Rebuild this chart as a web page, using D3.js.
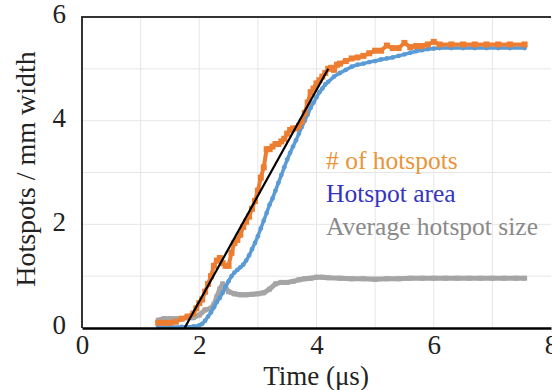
<!DOCTYPE html>
<html><head><meta charset="utf-8">
<script src="https://cdn.jsdelivr.net/npm/d3@7"></script>
<style>html,body{margin:0;padding:0;background:#fff;}svg{display:block;}</style>
</head><body>
<svg id="c" width="552" height="390"></svg>
<script>
// ---- data ----
const xTicks = [0, 2, 4, 6, 8];
const yTicks = [0, 2, 4, 6];
const seriesNames = ["# of hotspots", "Hotspot area", "Average hotspot size"];

const countT = [1.30,1.40,1.50,1.60,1.70,1.80,1.90,1.95,2.00,2.05,2.10,2.15,2.20,2.25,2.30,2.35,2.40,2.45,2.50,2.55,2.60,2.65,2.70,2.75,2.80,2.85,2.90,2.95,3.00,3.05,3.10,3.15,3.20,3.25,3.30,3.35,3.40,3.45,3.50,3.55,3.60,3.65,3.70,3.75,3.80,3.85,3.90,3.95,4.00,4.05,4.10,4.15,4.20,4.25,4.30,4.35,4.40,4.50,4.60,4.70,4.80,4.90,5.00,5.10,5.20,5.30,5.40,5.50,5.60,5.70,5.80,5.90,6.00,6.10,6.30,6.50,6.70,6.90,7.10,7.30,7.55];
const countV = [0.10,0.10,0.10,0.12,0.18,0.22,0.28,0.38,0.48,0.55,0.70,0.85,1.00,1.20,1.30,1.35,1.25,1.20,1.20,1.45,1.64,1.70,1.80,1.95,2.05,2.15,2.30,2.45,2.65,2.90,3.10,3.45,3.45,3.50,3.55,3.55,3.60,3.65,3.75,3.82,3.85,3.85,3.90,3.98,4.15,4.35,4.55,4.62,4.72,4.78,4.85,4.92,5.00,5.02,4.98,5.08,5.10,5.15,5.20,5.22,5.25,5.30,5.35,5.35,5.45,5.40,5.40,5.50,5.42,5.44,5.44,5.47,5.52,5.47,5.47,5.47,5.47,5.47,5.47,5.47,5.47];

const areaT = [1.30,1.50,1.70,1.90,2.00,2.05,2.10,2.15,2.20,2.25,2.30,2.35,2.40,2.45,2.50,2.55,2.60,2.65,2.70,2.75,2.80,2.85,2.90,2.95,3.00,3.05,3.10,3.15,3.20,3.25,3.30,3.35,3.40,3.45,3.50,3.55,3.60,3.65,3.70,3.75,3.80,3.85,3.90,3.95,4.00,4.05,4.10,4.15,4.20,4.30,4.40,4.50,4.60,4.70,4.80,4.90,5.00,5.10,5.20,5.30,5.40,5.50,5.60,5.70,5.80,5.90,6.00,6.10,6.30,6.50,6.70,6.90,7.10,7.30,7.55];
const areaV = [0.02,0.02,0.02,0.03,0.05,0.08,0.14,0.22,0.30,0.40,0.50,0.58,0.68,0.80,0.90,1.00,1.07,1.12,1.17,1.22,1.30,1.40,1.52,1.64,1.77,1.92,2.07,2.22,2.38,2.50,2.65,2.80,2.95,3.10,3.25,3.38,3.50,3.62,3.75,3.88,4.00,4.12,4.25,4.35,4.45,4.55,4.62,4.70,4.75,4.85,4.92,4.98,5.04,5.08,5.10,5.13,5.15,5.18,5.20,5.22,5.25,5.28,5.31,5.34,5.36,5.38,5.39,5.40,5.40,5.40,5.40,5.40,5.40,5.40,5.40];

const sizeT = [1.30,1.40,1.50,1.60,1.70,1.80,1.90,2.00,2.10,2.20,2.25,2.30,2.35,2.40,2.45,2.50,2.60,2.70,2.80,2.90,3.00,3.10,3.20,3.30,3.40,3.50,3.60,3.70,3.80,3.90,4.00,4.10,4.20,4.40,4.60,4.80,5.00,5.20,5.40,5.60,5.80,6.00,6.20,6.40,6.60,6.80,7.00,7.20,7.40,7.55];
const sizeV = [0.15,0.18,0.18,0.18,0.18,0.20,0.20,0.25,0.35,0.38,0.45,0.60,0.75,0.85,0.78,0.70,0.66,0.64,0.64,0.65,0.66,0.68,0.75,0.85,0.88,0.88,0.90,0.93,0.95,0.96,0.98,0.98,0.97,0.96,0.95,0.95,0.94,0.95,0.95,0.96,0.96,0.96,0.96,0.96,0.96,0.96,0.96,0.96,0.96,0.96];

const fitT = [1.75, 4.2];
const fitV = [0, 5.0];

// ---- drawing ----
const svg = d3.select("#c");
const x = d3.scaleLinear().domain([0, 8]).range([82, 551]);
const y = d3.scaleLinear().domain([0, 6]).range([328, 17]);
const font = "Liberation Serif, Times New Roman, serif";

// grid
svg.append("g").selectAll("line").data(d3.range(1, 8)).join("line")
  .attr("x1", d => x(d)).attr("x2", d => x(d)).attr("y1", y(0)).attr("y2", y(6))
  .attr("stroke", "#e6e6e6").attr("stroke-width", 1);
svg.append("g").selectAll("line").data(d3.range(1, 6)).join("line")
  .attr("x1", x(0)).attr("x2", x(8)).attr("y1", d => y(d)).attr("y2", d => y(d))
  .attr("stroke", "#e6e6e6").attr("stroke-width", 1);

function series(T, V, color, width, marker, msize) {
  const pts = T.map((t, i) => [t, V[i]]);
  svg.append("path").datum(pts)
    .attr("d", d3.line().x(d => x(d[0])).y(d => y(d[1])))
    .attr("fill", "none").attr("stroke", color).attr("stroke-width", width)
    .attr("stroke-linejoin", "round");
  const g = svg.append("g");
  if (marker === "sq") {
    g.selectAll("rect").data(pts).join("rect")
      .attr("x", d => x(d[0]) - msize / 2).attr("y", d => y(d[1]) - msize / 2)
      .attr("width", msize).attr("height", msize).attr("fill", color);
  } else {
    g.selectAll("circle").data(pts).join("circle")
      .attr("cx", d => x(d[0])).attr("cy", d => y(d[1])).attr("r", msize).attr("fill", color);
  }
}
series(sizeT, sizeV, "#a5a5a5", 5, "sq", 5);
series(areaT, areaV, "#5b9bd5", 3.5, "c", 2.4);
series(countT, countV, "#ed7d31", 4, "sq", 6);

// fit line
svg.append("line")
  .attr("x1", x(fitT[0])).attr("y1", y(fitV[0]))
  .attr("x2", x(fitT[1])).attr("y2", y(fitV[1]))
  .attr("stroke", "#000").attr("stroke-width", 2.2);

// frame
svg.append("line").attr("x1", x(0)).attr("x2", x(8)).attr("y1", y(6)).attr("y2", y(6))
  .attr("stroke", "#333").attr("stroke-width", 2);
svg.append("line").attr("x1", x(0)).attr("x2", x(0)).attr("y1", y(6) - 1).attr("y2", y(0))
  .attr("stroke", "#333").attr("stroke-width", 2);

// axes
const xa = svg.append("g").attr("transform", `translate(0,${y(0)})`)
  .call(d3.axisBottom(x).tickValues(xTicks).tickSize(0).tickPadding(7).tickFormat(d3.format("d")));
xa.attr("font-family", font);
xa.select(".domain").attr("stroke", "#000").attr("stroke-width", 2.5);
xa.selectAll("text").style("font-family", font).attr("font-size", 27).attr("fill", "#222");

const ya = svg.append("g").attr("transform", `translate(${x(0)},0)`)
  .call(d3.axisLeft(y).tickValues(yTicks).tickSize(0).tickPadding(16).tickFormat(d3.format("d")));
ya.attr("font-family", font);
ya.select(".domain").remove();
ya.selectAll("text").style("font-family", font).attr("font-size", 27).attr("fill", "#222").attr("dy", "0.22em");

// axis titles
svg.append("text").attr("x", 316).attr("y", 385).attr("text-anchor", "middle")
  .style("font-family", font).attr("font-size", 27).attr("fill", "#222").text("Time (μs)");
svg.append("text").attr("transform", "translate(35,169) rotate(-90)").attr("text-anchor", "middle")
  .style("font-family", font).attr("font-size", 28).attr("fill", "#222").text("Hotspots / mm width");

// legend texts
const legendColors = ["#e8953a", "#3535c0", "#8a8a8a"];
svg.append("g").selectAll("text").data(seriesNames).join("text")
  .attr("x", 326).attr("y", (d, i) => 169 + i * 33)
  .style("font-family", font).attr("font-size", 25.5)
  .attr("fill", (d, i) => legendColors[i]).text(d => d);
</script>
</body></html>
